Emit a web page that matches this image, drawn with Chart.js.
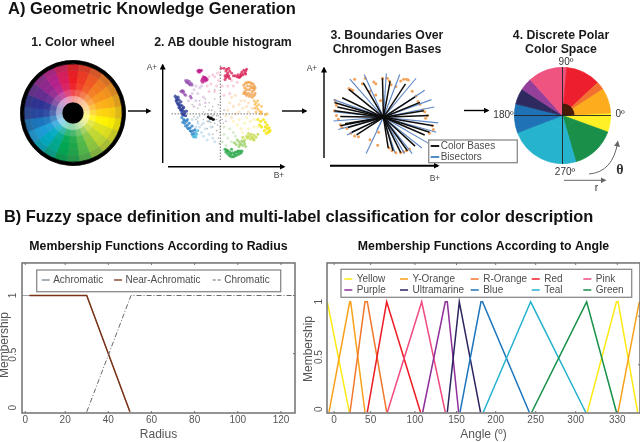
<!DOCTYPE html>
<html>
<head>
<meta charset="utf-8">
<title>Geometric Knowledge Generation</title>
<script src="https://cdn.jsdelivr.net/npm/chart.js@4/dist/chart.umd.min.js"></script>
<style>
  html, body { margin: 0; padding: 0; background: #fff; }
  #page { position: relative; width: 640px; height: 442px; overflow: hidden; font-family: "Liberation Sans", Arial, sans-serif; }
  canvas, svg { position: absolute; display: block; }
  .t { position: absolute; white-space: nowrap; transform: translate(-50%, -50%); line-height: 1; }
  .main { font-weight: bold; color: #111; transform: translateY(-50%); }
  .sub { font-weight: bold; font-size: 12.3px; color: #1a1a1a; }
  .ax { font-size: 8.5px; color: #444; }
  .deg { font-size: 10px; color: #333; }
</style>
</head>
<body>
<div id="page">
  <canvas id="wheel" width="106" height="106" style="left:19.5px;top:59.5px"></canvas>
  <canvas id="hist" width="130" height="115" style="left:160px;top:55px"></canvas>
  <canvas id="bases" width="200" height="115" style="left:325px;top:60px"></canvas>
  <canvas id="polar" width="97" height="97" style="left:514px;top:67px"></canvas>
  <canvas id="radius" width="300" height="210" style="left:0;top:232px"></canvas>
  <canvas id="angle" width="340" height="210" style="left:300px;top:232px"></canvas>

  <svg width="640" height="442" style="left:0;top:0;pointer-events:none">
    <defs>
      <marker id="k" markerWidth="6" markerHeight="6" refX="4.5" refY="3" orient="auto" markerUnits="userSpaceOnUse"><path d="M0,0 L6,3 L0,6 z" fill="#000"/></marker>
      <marker id="g" markerWidth="6" markerHeight="6" refX="4.5" refY="3" orient="auto" markerUnits="userSpaceOnUse"><path d="M0,0 L6,3 L0,6 z" fill="#666"/></marker>
    </defs>
    <g stroke="#000" stroke-width="1.4" fill="none">
      <path d="M128 111 H150" marker-end="url(#k)"/>
      <path d="M282 111 H306" marker-end="url(#k)"/>
      <path d="M464 110.5 H488" marker-end="url(#k)"/>
      <path d="M162.7 163 V65" marker-end="url(#k)"/>
      <path d="M168 166.7 H284" marker-end="url(#k)"/>
      <path d="M324 158 V68" marker-end="url(#k)"/>
      <path d="M330 165.7 H438" stroke-width="2" marker-end="url(#k)"/>
    </g>
    <path d="M564 180.3 H605" stroke="#666" stroke-width="1" fill="none" marker-end="url(#g)"/>
    <path d="M589 174 Q613 172 617.7 142" stroke="#666" stroke-width="1" fill="none" marker-end="url(#g)"/>
  </svg>

  <div class="t main" style="left:8px;top:8px;font-size:16.5px">A) Geometric Knowledge Generation</div>
  <div class="t sub" style="left:73px;top:42px">1. Color wheel</div>
  <div class="t sub" style="left:223px;top:42px">2. AB double histogram</div>
  <div class="t sub" style="left:387px;top:35px">3. Boundaries Over</div>
  <div class="t sub" style="left:387px;top:49px">Chromogen Bases</div>
  <div class="t sub" style="left:561px;top:35px">4. Discrete Polar</div>
  <div class="t sub" style="left:561px;top:49px">Color Space</div>
  <div class="t ax" style="left:152px;top:67px">A+</div>
  <div class="t ax" style="left:279px;top:175px">B+</div>
  <div class="t ax" style="left:312px;top:68px">A+</div>
  <div class="t ax" style="left:435px;top:178px">B+</div>
  <div class="t deg" style="left:566px;top:62px">90º</div>
  <div class="t deg" style="left:503.5px;top:115px">180º</div>
  <div class="t deg" style="left:620px;top:114px">0º</div>
  <div class="t deg" style="left:565px;top:172px">270º</div>
  <div class="t" style="left:620px;top:170px;font:bold 14px 'Liberation Serif',serif;color:#333">θ</div>
  <div class="t" style="left:596.5px;top:186.5px;font-size:10.5px;color:#333">r</div>
  <div class="t main" style="left:4px;top:216px;font-size:16.4px">B) Fuzzy space definition and multi-label classification for color description</div>
</div>

<script>
// ---- colour wheel ----
const wheelHues = ['#ed1c24', '#ef3a23', '#f15a22', '#f47a20', '#f7941d', '#fbb017', '#fdd20e', '#fff200',
  '#dfe11f', '#bfd730', '#8dc63f', '#50b848', '#1fa64a', '#00a651', '#00a88f', '#00a9c0',
  '#1b9cd8', '#1b75bc', '#27479f', '#2e3192', '#662d91', '#92278f', '#b5208b', '#d91c5c'];
const wheelSectors = wheelHues.map(() => 15);
// share of white (+) or grey (-) per ring, outermost first
const wheelRings = [-0.18, -0.04, 0, 0.04, 0.2, 0.55];

// ---- AB double histogram: [b, a] ----
const histMagenta = [[-24,46],[-23,47],[-22,47],[-21,46],[-20,47],[-18,40],[-17,39],[-16,37],[-18,37],[-20,36],[-15,38],[-15,36],[-19,34],[-17,35],[-22,45],[-23,45],[-19,38],[-16,39],[-14,37]];
const histRed = [[1,49],[4,49],[7,48],[9,49],[10,46],[8,44],[7,42],[6,39],[5,37],[9,41],[12,44],[10,38],[18,40],[20,39],[22,41],[24,42],[26,44],[27,46],[28,48],[25,47],[22,43],[19,42],[16,41],[14,41],[6,46],[5,41],[8,40],[23,45],[27,43],[21,40]];
const histPink = [[-8,42],[-6,40],[-2,36],[-10,32],[-4,30],[-12,24],[-6,24],[0,42],[14,30],[8,30],[4,20],[10,22],[-14,30],[-3,44],[-12,40],[12,36],[18,34],[2,30]];
const histPurple = [[-37,36],[-35,36],[-33,35],[-31,33],[-30,31],[-34,33],[-32,31],[-36,34],[-42,24],[-40,23],[-38,21],[-37,20],[-39,24],[-41,25],[-32,19],[-31,17],[-35,34],[-33,32],[-40,25]];
const histPalePurple = [[-28,26],[-24,22],[-20,30],[-26,14],[-22,10],[-28,8],[-18,18],[-22,28],[-16,12],[-30,22],[-34,14],[-26,30]];
const histNavy = [[-48,19],[-47,17],[-46,15],[-45,18],[-44,15],[-46,12],[-44,11],[-42,13],[-43,9],[-41,9],[-44,7],[-40,6],[-42,4],[-39,3],[-41,1],[-38,1],[-40,-1],[-37,-2],[-36,3],[-39,7],[-47,14],[-45,10],[-43,6],[-41,4],[-39,-1]];
const histBlue = [[-41,-4],[-39,-6],[-40,-9],[-38,-10],[-36,-8],[-37,-13],[-35,-12],[-33,-10],[-34,-16],[-32,-15],[-30,-13],[-31,-19],[-29,-18],[-28,-21],[-30,-22],[-27,-17],[-35,-6],[-38,-7],[-35,-15],[-32,-18]];
const histCyan = [[-29,-24],[-28,-25],[-27,-23],[-26,-25],[-25,-22],[-26,-20],[-24,-18]];
const histPaleBlue = [[-22,-14],[-18,-10],[-20,-20],[-16,-16],[-12,-22],[-12,-8],[-8,-26],[-10,-14],[-24,-10],[-6,-30],[-14,-28],[-26,-14],[-18,-24],[-30,-6],[-24,-4]];
const histOrange = [[25,31],[27,33],[29,34],[31,34],[33,33],[35,32],[36,30],[37,28],[36,26],[34,24],[31,26],[28,26],[26,24],[25,22],[28,20],[31,19],[34,18],[36,20],[30,22],[33,28],[37,22],[26,28],[29,30],[32,30],[35,28],[27,22],[33,21]];
const histAmber = [[36,14],[38,12],[40,14],[41,10],[39,8],[37,6],[40,5],[42,3],[43,1],[38,2],[44,8],[43,0],[48,-1],[50,0],[44,2],[37,10]];
const histPaleOrange = [[10,12],[14,8],[20,10],[24,6],[8,4],[16,0],[6,-2],[28,8],[20,2],[22,14],[12,-4],[30,2],[16,20],[26,14],[30,12],[12,18],[34,6]];
const histYellow = [[40,-6],[43,-8],[46,-6],[48,-9],[50,-12],[52,-15],[53,-18],[51,-20],[49,-21],[47,-18],[44,-14],[42,-12],[50,-16],[52,-19],[48,-14]];
const histPaleYellow = [[14,-8],[20,-6],[26,-10],[32,-8],[22,-16],[30,-16],[36,-14],[18,-12],[28,-4],[36,-6],[40,-14],[24,-20]];
const histLime = [[30,-21],[33,-22],[36,-23],[38,-25],[35,-27],[32,-27],[29,-26],[28,-24],[26,-28],[24,-25],[36,-28],[40,-22],[34,-25],[31,-24]];
const histLightGreen = [[18,-28],[20,-30],[22,-32],[24,-34],[26,-32],[23,-29],[20,-35],[17,-33],[15,-31],[27,-35],[21,-33],[25,-30]];
const histGreen = [[5,-38],[6,-41],[8,-43],[10,-45],[12,-46],[14,-46],[16,-45],[18,-44],[20,-43],[22,-42],[23,-40],[10,-41],[13,-42],[16,-41],[19,-40],[8,-40],[12,-38],[7,-39],[11,-43],[15,-43],[18,-41],[21,-40]];
const histPaleGreen = [[4,-22],[8,-26],[12,-30],[2,-30],[6,-34],[14,-20],[10,-16],[16,-24],[4,-14]];
const histGrey = [[-30,10],[-24,6],[-18,2],[-14,0],[-22,-2],[-28,-3],[-18,-6],[-14,-8],[-20,-12],[-14,-16],[-8,-14],[-6,-10],[-4,-6],[-2,-2],[-6,2],[-8,8],[-12,12],[-16,16],[-6,16],[-2,10],[-4,-18],[-2,-26],[0,-14],[2,-6],[4,4],[-22,14],[0,18],[-6,26],[-26,-6],[3,-10],[6,-8],[-8,-22],[-12,4],[-16,8],[-8,-2],[-12,-2],[-14,-4],[-6,-6],[-10,-9],[-7,-1],[-12,-8],[-4,-2],[-10,0],[-9,4],[-3,-12],[-1,-8],[0,-20],[-1,-32],[-17,-1],[-24,-8]];
const histBlack = [[-10,-5],[-11,-5],[-9,-5],[-10,-4],[-12,-4],[-8,-6],[-13,-3],[-7,-6]];
const histAxisB = [[-52,0],[50,0]];
const histAxisA = [[0,52],[0,-51]];

// ---- chromogen bases: spoke ends [b, a] ----
const baseEnds = [[-1,42],[-21,37],[-36,30],[-43,21],[-51,16],[-48,11],[-51,7],[-45,1],[-45,-9],[-40,-7],[-37,-11],[-33,-16],[-28,-19],[7,39],[23,36],[33,22],[38,16],[42,7],[47,2],[52,-9],[48,-16],[43,-19],[33,-31],[25,-36],[18,-38],[10,-36],[5,-33]];
const bisectorEnds = [[-35,41],[-20,46],[3,47],[17,46],[34,42],[43,29],[50,19],[53,11],[-52,19],[-52,6],[-52,-4],[-47,-13],[-38,-19],[-18,-39],[-7,-14],[12,-38],[22,-39],[30,-39],[40,-33],[47,-28],[55,-16],[57,-6]];
const baseDots = [[-36,31],[-34,30],[-32,29],[-30,41],[-22,36],[-19,42],[-10,38],[-8,36],[-1,42],[4,42],[6,39],[8,35],[18,39],[21,41],[24,41],[26,40],[13,33],[30,28],[34,23],[36,17],[38,14],[41,8],[43,6],[46,2],[44,-1],[51,-9],[52,-13],[48,-17],[-50,18],[-49,13],[-51,7],[-49,2],[-47,-2],[-45,-8],[-43,-11],[-38,-12],[-34,-17],[-30,-20],[-26,-21],[-14,-24],[-6,-30],[-5,-16],[6,-33],[9,-36],[13,-38],[18,-38],[21,-37],[24,-36],[27,-34],[-8,24],[-14,28],[-3,18]];

// ---- discrete polar space, slices clockwise from 3 degrees ----
const polarDegrees = [23, 54, 85, 35, 19, 15, 47, 42, 10, 30];
const polarColors = ['#fff125', '#198f4a', '#25b3cd', '#1f72b5', '#2e2a5f', '#94409b', '#ef5380', '#ed1f2f', '#f37130', '#fdac1d'];
const coreDegrees = [23, 54, 85, 35, 19, 15, 42, 87];
const coreColors = ['#fff125', '#198f4a', '#25b3cd', '#1f72b5', '#2e2a5f', '#94409b', '#ef5380', '#481a08'];

// ---- membership by radius ----
const radiusTickPos = [1.5, 20, 40, 60, 80, 100, 120];
const radiusTickLabels = ['0', '20', '40', '60', '80', '100', '120'];
const achromaticX = [0, 30, 50];
const achromaticY = [1, 1, 0];
const nearX = [3.4, 30, 50];
const nearY = [1, 1, 0];
const chromaticX = [30, 50.5, 126.5];
const chromaticY = [0, 1, 1];

// ---- membership by angle ----
const angleTickPos = [-2, 43.7, 99, 151, 200, 250, 300, 352];
const angleTickLabels = ['0', '50', '100', '150', '200', '250', '300', '330'];
const yellowX = [-10.5, 17, 200, 314.5, 351, 353, 377.5];
const yellowY = [1, 0, null, 0, 1, 1, 0];
const yOrangeX = [-8.4, 17.5, 18.7, 36.6, 200, 353, 379.5];
const yOrangeY = [0, 1, 1, 0, null, 0, 1];
const rOrangeX = [17.9, 36.6, 39.5, 63.7];
const rOrangeY = [0, 1, 1, 0];
const redX = [39.5, 63.7, 106];
const redY = [0, 1, 0];
const pinkX = [64.5, 107.5, 137];
const pinkY = [0, 1, 0];
const purpleX = [108.7, 137, 139.5, 153.7];
const purpleY = [0, 1, 1, 0];
const ultraX = [139.5, 154.5, 181];
const ultraY = [0, 1, 0];
const blueX = [155.4, 181.6, 183.5, 242];
const blueY = [0, 1, 1, 0];
const tealX = [184.5, 243.7, 312.5];
const tealY = [0, 1, 0];
const greenX = [245, 313.7, 351];
const greenY = [0, 1, 0];

const membershipTicks = [0, 0.5, 1];

function mixColor(hex, amount) {
  const target = amount < 0 ? [70, 70, 70] : [255, 255, 255];
  const t = Math.abs(amount);
  const rgb = [1, 3, 5].map(i => parseInt(hex.slice(i, i + 2), 16));
  return 'rgb(' + rgb.map((c, i) => Math.round(c + (target[i] - c) * t)).join(',') + ')';
}

function toPoints(pairs) {
  return pairs.map(p => ({ x: p[0], y: p[1] }));
}

function zipPoints(xs, ys) {
  return xs.map((x, i) => ({ x: x, y: ys[i] }));
}

function dots(pairs, color, radius) {
  return { data: toPoints(pairs), pointBackgroundColor: color, pointBorderWidth: 0, pointRadius: radius, showLine: false };
}

// chart.js paints the first dataset on top, here the last one goes on top
function stacked(list) {
  list.forEach((d, i) => { d.order = -i; });
  return list;
}

function hiddenScale(min, max) {
  return { type: 'linear', display: false, min: min, max: max };
}

const quiet = { legend: { display: false }, tooltip: { enabled: false }, title: { display: false } };

// legend in a grey box, drawn inside the chart
const boxLegend = {
  id: 'boxLegend',
  afterDraw(chart, args, opts) {
    const ctx = chart.ctx;
    ctx.save();
    ctx.fillStyle = '#fff';
    ctx.strokeStyle = '#8a8a8a';
    ctx.lineWidth = 1.3;
    ctx.fillRect(opts.x, opts.y, opts.w, opts.h);
    ctx.strokeRect(opts.x, opts.y, opts.w, opts.h);
    ctx.font = opts.font;
    ctx.textBaseline = 'middle';
    opts.items.forEach(item => {
      ctx.strokeStyle = item.color;
      ctx.lineWidth = item.width;
      ctx.setLineDash(item.dash || []);
      ctx.beginPath();
      ctx.moveTo(item.x, item.y);
      ctx.lineTo(item.x + opts.swatch, item.y);
      ctx.stroke();
      ctx.setLineDash([]);
      ctx.fillStyle = '#4d4d4d';
      ctx.fillText(item.label, item.x + opts.swatch + opts.gap, item.y);
    });
    ctx.restore();
  }
};

// R style frame: inner tick marks, rotated y labels and the y title
const rFrame = {
  id: 'rFrame',
  afterDraw(chart, args, opts) {
    const ctx = chart.ctx;
    const area = chart.chartArea;
    const xs = chart.scales.x;
    const ys = chart.scales.y;
    ctx.save();
    ctx.strokeStyle = '#707070';
    ctx.lineWidth = 1;
    opts.xTicks.forEach(v => {
      const px = xs.getPixelForValue(v);
      ctx.beginPath();
      ctx.moveTo(px, area.top);
      ctx.lineTo(px, area.top + 2);
      ctx.moveTo(px, area.bottom);
      ctx.lineTo(px, area.bottom - 2);
      ctx.stroke();
    });
    opts.rightTicks.forEach(v => {
      const py = ys.getPixelForValue(v);
      ctx.beginPath();
      ctx.moveTo(area.right, py);
      ctx.lineTo(area.right - 2, py);
      ctx.stroke();
    });
    ctx.lineWidth = 1.5;
    ctx.strokeRect(area.left, area.top, area.right - area.left, area.bottom - area.top);
    ctx.fillStyle = '#555';
    ctx.textAlign = 'center';
    ctx.textBaseline = 'middle';
    ctx.font = '10px "Liberation Sans"';
    membershipTicks.forEach((v, i) => {
      ctx.save();
      ctx.translate(opts.labelX, ys.getPixelForValue(v) + opts.labelShift[i]);
      ctx.rotate(-Math.PI / 2);
      ctx.fillText(String(v), 0, 0);
      ctx.restore();
    });
    ctx.font = '12px "Liberation Sans"';
    ctx.translate(opts.titleX, opts.titleY);
    ctx.rotate(-Math.PI / 2);
    ctx.fillText('Membership', 0, 0);
    ctx.restore();
  }
};

// axes through the middle of the polar pie
const polarCross = {
  id: 'polarCross',
  afterDraw(chart) {
    const arc = chart.getDatasetMeta(0).data[0];
    const r = arc.outerRadius + 1;
    const ctx = chart.ctx;
    ctx.save();
    ctx.strokeStyle = '#222';
    ctx.lineWidth = 0.9;
    ctx.beginPath();
    ctx.moveTo(arc.x - r, arc.y);
    ctx.lineTo(arc.x + r, arc.y);
    ctx.moveTo(arc.x, arc.y - r);
    ctx.lineTo(arc.x, arc.y + r);
    ctx.stroke();
    ctx.restore();
  }
};

Chart.defaults.animation = false;
Chart.defaults.responsive = false;
Chart.defaults.font.family = '"Liberation Sans", Arial, sans-serif';

// same colour border closes the hairline seams between arcs
function ring(data, colors, weight) {
  return { data: data, backgroundColor: colors, borderColor: colors, borderWidth: 0.7, weight: weight };
}

new Chart(document.getElementById('wheel'), {
  type: 'pie',
  data: {
    datasets: [ring([1], ['#000'], 3.5)]
      .concat(wheelRings.map(tint => ring(wheelSectors, wheelHues.map(h => mixColor(h, tint)), 6.4)))
      .concat([ring([1], ['#000'], 11)])
  },
  options: { rotation: -7.5, plugins: quiet, events: [] }
});

new Chart(document.getElementById('hist'), {
  type: 'scatter',
  data: {
    datasets: stacked([
      dots(histPink, '#f7cfdf', 1.5), dots(histPalePurple, '#e3cfea', 1.5), dots(histPaleBlue, '#cfe4f3', 1.5),
      dots(histPaleOrange, '#fce6cc', 1.6), dots(histPaleYellow, '#fcf5c4', 1.6), dots(histPaleGreen, '#d9edd0', 1.5),
      dots(histGrey, '#b0b0b0', 0.8),
      { data: toPoints(histAxisB), showLine: true, pointRadius: 0, borderColor: '#777', borderWidth: 1, borderDash: [1.5, 1.5] },
      { data: toPoints(histAxisA), showLine: true, pointRadius: 0, borderColor: '#777', borderWidth: 1, borderDash: [1.5, 1.5] },
      dots(histMagenta, 'rgba(190,30,140,0.75)', 1.5), dots(histRed, 'rgba(216,24,79,0.75)', 1.5), dots(histPurple, 'rgba(150,80,175,0.75)', 1.5),
      dots(histNavy, 'rgba(42,60,150,0.8)', 1.6), dots(histBlue, 'rgba(42,128,196,0.8)', 1.5), dots(histCyan, 'rgba(69,182,224,0.8)', 1.4),
      dots(histOrange, 'rgba(240,153,60,0.7)', 1.6), dots(histAmber, 'rgba(251,184,74,0.75)', 1.4), dots(histYellow, 'rgba(246,229,22,0.85)', 1.6),
      dots(histLime, 'rgba(198,217,74,0.8)', 1.5), dots(histLightGreen, 'rgba(156,207,106,0.8)', 1.5), dots(histGreen, 'rgba(42,168,74,0.8)', 1.6),
      dots(histBlack, '#111', 1.2)
    ])
  },
  options: { scales: { x: hiddenScale(-60, 70), y: hiddenScale(-56, 59) }, plugins: quiet, events: [] }
});

new Chart(document.getElementById('bases'), {
  type: 'scatter',
  data: {
    datasets: stacked([dots(baseDots, '#f3a25c', 1.5)]
      .concat(bisectorEnds.map(e => ({ data: [{ x: 0, y: 0 }, { x: e[0], y: e[1] }], showLine: true, pointRadius: 0, borderColor: '#5d86c4', borderWidth: 1.1 })))
      .concat(baseEnds.map(e => ({ data: [{ x: 0, y: 0 }, { x: e[0], y: e[1] }], showLine: true, pointRadius: 0, borderColor: '#0d0d0d', borderWidth: 1.5 }))))
  },
  plugins: [boxLegend],
  options: {
    // one unit is one pixel, spokes meet at 381.7, 117.3 on the page
    scales: { x: hiddenScale(-56.7, 143.3), y: hiddenScale(-57.7, 57.3) },
    plugins: Object.assign({}, quiet, {
      boxLegend: {
        x: 103.7, y: 80, w: 88.6, h: 22.7, swatch: 8.5, gap: 1.5, font: '10px "Liberation Sans"',
        items: [
          { label: 'Color Bases', color: '#000', width: 1.8, x: 105.7, y: 86 },
          { label: 'Bisectors', color: '#3f7fc1', width: 1.8, x: 105.7, y: 97 }
        ]
      }
    }),
    events: []
  }
});

new Chart(document.getElementById('polar'), {
  type: 'pie',
  data: {
    datasets: [
      ring(polarDegrees, polarColors, 36),
      ring(coreDegrees, coreColors, 12.5)
    ]
  },
  plugins: [polarCross],
  options: { rotation: 87, plugins: quiet, events: [] }
});

function membershipOptions(cfg) {
  return {
    layout: { padding: { right: cfg.rightPad } },
    scales: {
      x: {
        type: 'linear', min: cfg.xMin, max: cfg.xMax,
        grid: { display: false, drawTicks: false }, border: { display: false },
        afterBuildTicks: s => { s.ticks = cfg.tickPos.map(v => ({ value: v })); },
        afterFit: s => { s.height = 29; },
        ticks: {
          autoSkip: false, maxRotation: 0, padding: 1, color: '#555', font: { size: 10 },
          callback: (v, i) => cfg.tickLabels[i]
        },
        title: { display: true, text: cfg.xTitle, color: '#555', font: { size: 12 }, padding: 0 }
      },
      y: {
        type: 'linear', min: cfg.yMin, max: cfg.yMax,
        grid: { display: false, drawTicks: false }, border: { display: false },
        ticks: { display: false },
        afterFit: s => { s.width = cfg.axisWidth; }
      }
    },
    plugins: {
      legend: { display: false },
      tooltip: { enabled: false },
      title: {
        display: true, text: cfg.title, color: '#111', fullSize: false,
        font: { size: 12.3, weight: 'bold' }, padding: { top: 7.5, bottom: 8.7 }
      },
      boxLegend: cfg.legend,
      rFrame: {
        xTicks: cfg.tickPos, rightTicks: cfg.rightTicks, labelX: cfg.labelX, labelShift: cfg.labelShift,
        titleX: cfg.titleX, titleY: cfg.titleY
      }
    },
    events: []
  };
}

function curve(label, xs, ys, color, width, dash) {
  return { label: label, data: zipPoints(xs, ys), showLine: true, pointRadius: 0, borderColor: color, borderWidth: width, borderDash: dash || [], spanGaps: false };
}

const radiusSeries = stacked([
  curve('Achromatic', achromaticX, achromaticY, '#a0a4a8', 1),
  curve('Near-Achromatic', nearX, nearY, '#7a3216', 1.5),
  curve('Chromatic', chromaticX, chromaticY, '#666', 1, [5, 2, 1, 2])
]);

new Chart(document.getElementById('radius'), {
  type: 'scatter',
  data: { datasets: radiusSeries },
  plugins: [rFrame, boxLegend],
  options: membershipOptions({
    title: 'Membership Functions According to Radius', xTitle: 'Radius',
    xMin: 0, xMax: 126.5, yMin: -0.01, yMax: 1.28,
    tickPos: radiusTickPos, tickLabels: radiusTickLabels,
    rightPad: 5, axisWidth: 22, labelX: 13, labelShift: [-4, 1, 0], rightTicks: [0.5, 1],
    titleX: 5, titleY: 113,
    legend: {
      x: 36.7, y: 38, w: 244, h: 21.7, swatch: 8, gap: 3.5, font: '10px "Liberation Sans"',
      items: [
        { label: 'Achromatic', color: '#4a5a6a', width: 1, x: 41.7, y: 48 },
        { label: 'Near-Achromatic', color: '#7a3216', width: 1.3, x: 114, y: 48 },
        { label: 'Chromatic', color: '#666', width: 1, dash: [3, 2], x: 212.7, y: 48 }
      ]
    }
  })
});

const angleSeries = stacked([
  curve('Yellow', yellowX, yellowY, '#fdea14', 1.5),
  curve('Y-Orange', yOrangeX, yOrangeY, '#f9a11b', 1.5),
  curve('R-Orange', rOrangeX, rOrangeY, '#f1772c', 1.5),
  curve('Red', redX, redY, '#ed1c24', 1.5),
  curve('Pink', pinkX, pinkY, '#ef4b7f', 1.5),
  curve('Purple', purpleX, purpleY, '#8e2f9a', 1.5),
  curve('Ultramarine', ultraX, ultraY, '#2a2560', 1.5),
  curve('Blue', blueX, blueY, '#1c75bc', 1.5),
  curve('Teal', tealX, tealY, '#23b2ce', 1.5),
  curve('Green', greenX, greenY, '#17904a', 1.5)
]);
// legend slots, offset from the canvas left edge: column then row
const angleSlots = [[44.3, 47], [44.3, 58], [100, 47], [100, 58], [170.7, 47], [170.7, 58], [231.7, 47], [231.7, 58], [283.3, 47], [283.3, 58]];
const angleLegendOrder = ['Yellow', 'Purple', 'Y-Orange', 'Ultramarine', 'R-Orange', 'Blue', 'Red', 'Teal', 'Pink', 'Green'];

new Chart(document.getElementById('angle'), {
  type: 'scatter',
  data: { datasets: angleSeries },
  plugins: [rFrame, boxLegend],
  options: membershipOptions({
    title: 'Membership Functions According to Angle', xTitle: 'Angle (º)',
    xMin: -10.9, xMax: 380.4, yMin: -0.007, yMax: 1.352,
    tickPos: angleTickPos, tickLabels: angleTickLabels,
    rightPad: 0, axisWidth: 27, labelX: 19, labelShift: [-3, 0, 0], rightTicks: [0.43, 0.87],
    titleX: 9, titleY: 117,
    legend: {
      x: 41, y: 37.3, w: 290.7, h: 28, swatch: 8, gap: 4.5, font: '10px "Liberation Sans"',
      items: angleLegendOrder.map((name, i) => {
        const s = angleSeries.find(d => d.label === name);
        return { label: name, color: s.borderColor, width: 1.5, x: angleSlots[i][0], y: angleSlots[i][1] };
      })
    }
  })
});
</script>
</body>
</html>
